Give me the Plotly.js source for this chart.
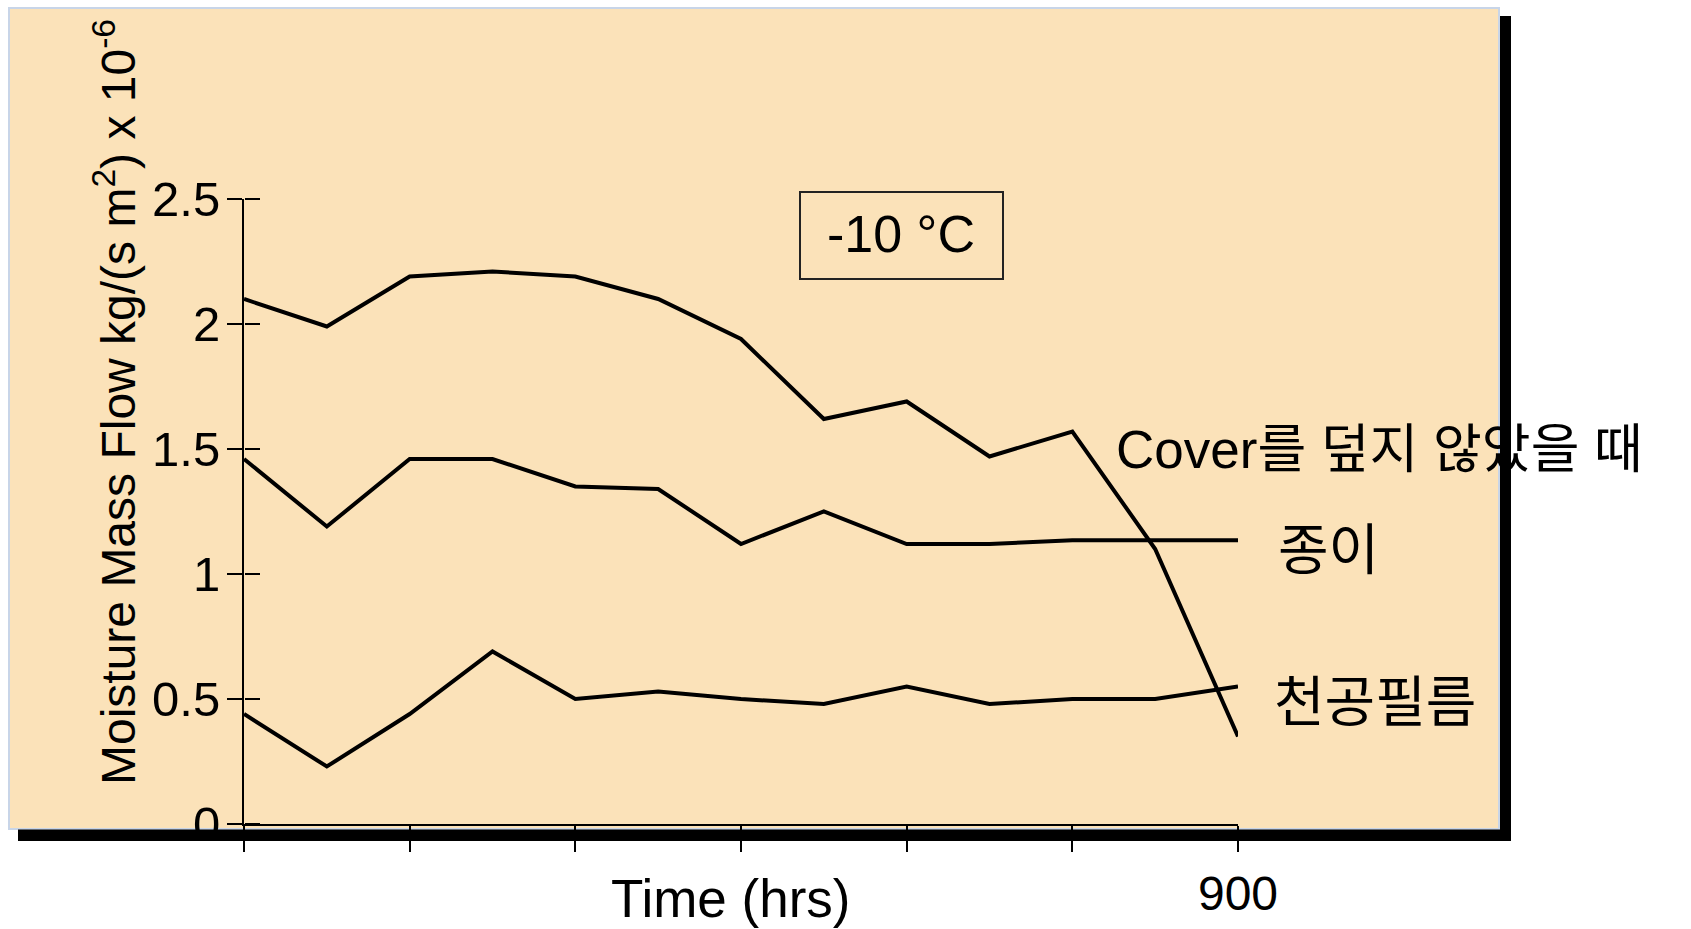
<!DOCTYPE html>
<html>
<head>
<meta charset="utf-8">
<script src="https://cdn.plot.ly/plotly-3.0.1.min.js"></script>
<style>
  html, body { margin: 0; padding: 0; background: #ffffff; }
  #chart { width: 1691px; height: 929px; }
</style>
</head>
<body>
<div id="chart"></div>
<script>
// ---- data ----
const hours = [0, 75, 150, 225, 300, 375, 450, 525, 600, 675, 750, 825, 900];
const noCover = [2.10, 1.99, 2.19, 2.21, 2.19, 2.10, 1.94, 1.62, 1.69, 1.47, 1.57, 1.10, 0.35];
const paperCover = [1.46, 1.19, 1.46, 1.46, 1.35, 1.34, 1.12, 1.25, 1.12, 1.12, 1.135, 1.135, 1.135];
const filmCover = [0.44, 0.23, 0.44, 0.69, 0.50, 0.53, 0.50, 0.48, 0.55, 0.48, 0.50, 0.50, 0.55];
const seriesNames = ["Cover를 덮지 않았을 때", "종이", "천공필름"];

const xTickVals = [0, 150, 300, 450, 600, 750, 900];
const xLabelVals = [900];
const xLabelText = ["900"];
const yTickVals = [0, 0.5, 1, 1.5, 2, 2.5];
const yTickText = ["0", "0.5", "1", "1.5", "2", "2.5"];

// ---- layout geometry (pixels) ----
const W = 1691, H = 929;
const M = { l: 244, r: 453, t: 199, b: 105 };
const PW = W - M.l - M.r, PH = H - M.t - M.b;
const px = x => (x - M.l) / PW;
const py = y => (H - M.b - y) / PH;

const LAT = "Liberation Sans, Arial, 'Noto Sans CJK KR', sans-serif";
const KOR = "Liberation Sans, 'Noto Sans CJK KR', sans-serif";

const lineStyle = { color: "#000000", width: 4, shape: "linear" };
const traces = [
  { x: hours, y: noCover, name: seriesNames[0], mode: "lines", line: lineStyle, cliponaxis: false },
  { x: hours, y: paperCover, name: seriesNames[1], mode: "lines", line: lineStyle, cliponaxis: false },
  { x: hours, y: filmCover, name: seriesNames[2], mode: "lines", line: lineStyle, cliponaxis: false },
  // invisible helper so the overlay axes (900 label, right half of cross ticks) are drawn
  { x: hours, y: filmCover, xaxis: "x2", yaxis: "y2", mode: "lines", line: { width: 0, color: "rgba(0,0,0,0)" },
    hoverinfo: "skip", showlegend: false, opacity: 0 }
];

const layout = {
  width: W, height: H,
  margin: M,
  paper_bgcolor: "#ffffff",
  plot_bgcolor: "rgba(0,0,0,0)",
  showlegend: false,
  font: { family: LAT, color: "#000000", size: 44 },
  xaxis: {
    range: [0, 900],
    showgrid: false, zeroline: false,
    showline: true, linecolor: "#000000", linewidth: 2,
    ticks: "outside", ticklen: 26, tickwidth: 2, tickcolor: "#000000",
    tickmode: "array", tickvals: xTickVals, showticklabels: false
  },
  xaxis2: {
    range: [0, 900], overlaying: "x", side: "bottom", anchor: "y2",
    showgrid: false, zeroline: false, showline: false, ticks: "",
    tickmode: "array", tickvals: xLabelVals, ticktext: xLabelText,
    tickfont: { size: 48, family: LAT },
    ticklabelstandoff: 37
  },
  yaxis: {
    range: [0, 2.5],
    showgrid: false, zeroline: false,
    showline: true, linecolor: "#000000", linewidth: 2,
    ticks: "outside", ticklen: 15, tickwidth: 2, tickcolor: "#000000",
    tickmode: "array", tickvals: yTickVals, ticktext: yTickText,
    tickfont: { size: 49, family: LAT },
    ticklabelstandoff: -3
  },
  yaxis2: {
    range: [0, 2.5], overlaying: "y", side: "right", anchor: "free", position: 0,
    showgrid: false, zeroline: false, showline: false,
    ticks: "outside", ticklen: 15, tickwidth: 2, tickcolor: "#000000",
    tickmode: "array", tickvals: yTickVals, showticklabels: false
  },
  shapes: [
    // orange panel
    { type: "rect", xref: "paper", yref: "paper", layer: "below",
      x0: px(9), x1: px(1499), y0: py(829), y1: py(8),
      fillcolor: "#FBE2B9", line: { color: "#C8D5E8", width: 2 } },
    // drop shadow strips
    { type: "rect", xref: "paper", yref: "paper", layer: "above",
      x0: px(1500), x1: px(1511), y0: py(841), y1: py(16),
      fillcolor: "#000000", line: { width: 0 } },
    { type: "rect", xref: "paper", yref: "paper", layer: "above",
      x0: px(18), x1: px(1511), y0: py(841), y1: py(829.5),
      fillcolor: "#000000", line: { width: 0 } },
    // temperature box
    { type: "rect", xref: "paper", yref: "paper", layer: "above",
      x0: px(800), x1: px(1003), y0: py(279), y1: py(192),
      fillcolor: "rgba(0,0,0,0)", line: { color: "#222222", width: 2 } }
  ],
  annotations: [
    { text: "Moisture Mass Flow kg/(s m<sup>2</sup>) x 10<sup>-6</sup>", textangle: -90,
      xref: "paper", yref: "paper", x: px(115), y: py(402), xanchor: "center", yanchor: "middle",
      showarrow: false, font: { size: 48, family: LAT } },
    { text: "Time (hrs)", xref: "paper", yref: "paper", x: px(730), y: py(898),
      xanchor: "center", yanchor: "middle", showarrow: false, font: { size: 53, family: LAT } },
    { text: "-10 °C", xref: "paper", yref: "paper", x: px(901), y: py(234),
      xanchor: "center", yanchor: "middle", showarrow: false, font: { size: 52, family: LAT } },
    { text: seriesNames[0], xref: "paper", yref: "paper", x: px(1114), y: py(449),
      xanchor: "left", yanchor: "middle", showarrow: false, font: { size: 53, family: KOR } },
    { text: seriesNames[1], xref: "paper", yref: "paper", x: px(1276), y: py(550),
      xanchor: "left", yanchor: "middle", showarrow: false, font: { size: 55, family: KOR } },
    { text: seriesNames[2], xref: "paper", yref: "paper", x: px(1272), y: py(702),
      xanchor: "left", yanchor: "middle", showarrow: false, font: { size: 55, family: KOR } }
  ]
};

Plotly.newPlot("chart", traces, layout, { displayModeBar: false, staticPlot: true });
</script>
</body>
</html>
